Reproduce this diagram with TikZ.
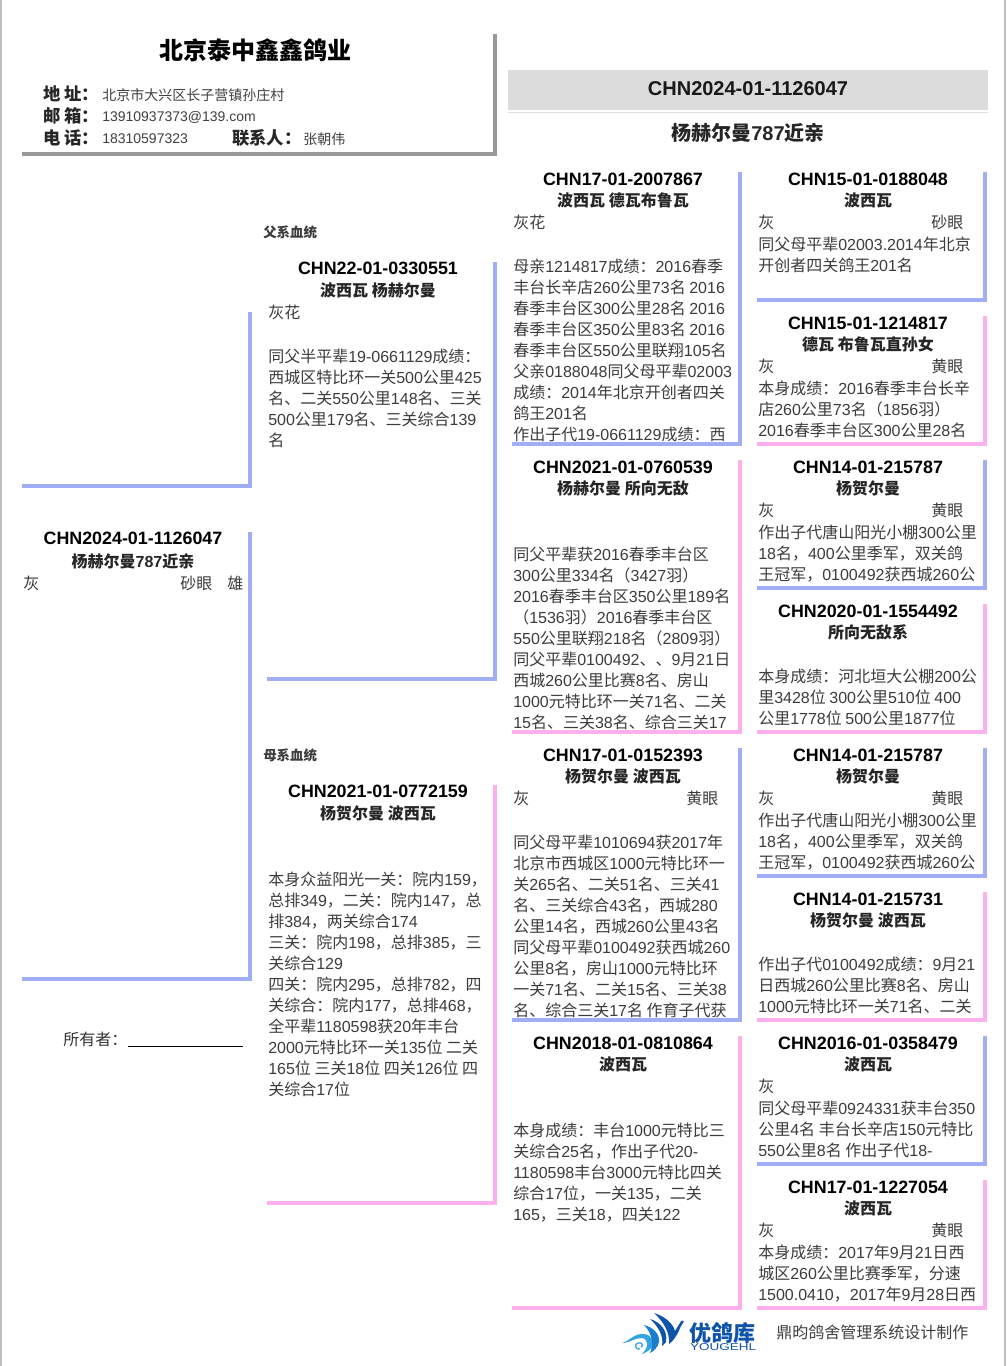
\documentclass[tikz,border=0pt]{standalone}
\usepackage{fontspec}
\setmainfont{Liberation Sans}
\newfontfamily\cjkfam{Noto Sans CJK SC}
\definecolor{blueline}{RGB}{160,175,245}
\definecolor{pinkline}{RGB}{252,177,236}
\definecolor{shadowline}{RGB}{153,153,153}
\definecolor{idbar}{RGB}{220,220,220}
\definecolor{bodycolor}{RGB}{60,60,60}
\definecolor{logodark}{RGB}{16,84,170}
\definecolor{logomid}{RGB}{24,126,205}
\definecolor{logolight}{RGB}{50,165,225}

% CJK characters take the CJK family, the rest Liberation Sans
\newXeTeXintercharclass\cjkclass
\count255="3000
\loop\XeTeXcharclass\count255=\cjkclass\ifnum\count255<"303F\advance\count255 by 1 \repeat
\count255="4E00
\loop\XeTeXcharclass\count255=\cjkclass\ifnum\count255<"9FFF\advance\count255 by 1 \repeat
\count255="FF00
\loop\XeTeXcharclass\count255=\cjkclass\ifnum\count255<"FFEF\advance\count255 by 1 \repeat
\XeTeXinterchartoks 0 \cjkclass={\cjkfam}
\XeTeXinterchartoks 4095 \cjkclass={\cjkfam}
\XeTeXinterchartoks \cjkclass 0={\rmfamily}
\XeTeXinterchartoks 4095 0={\rmfamily}
\XeTeXinterchartokenstate=1

\begin{document}
\begin{tikzpicture}[x=0.75pt,y=-0.75pt]
  \tikzset{
    idtext/.style={
      font=\fontsize{13.4}{16}\selectfont\bfseries,
      text=black,
      inner sep=0pt
    },
    subtext/.style={
      font=\fontsize{12}{15}\selectfont\bfseries,
      text=black!85,
      inner sep=0pt
    },
    colortext/.style={
      font=\fontsize{12}{15}\selectfont,
      text=bodycolor,
      anchor=west,
      yshift=-0.6pt,
      inner sep=0pt
    },
    bodytext/.style={
      font=\fontsize{12}{15.75}\selectfont,
      text=bodycolor,
      anchor=north west,
      align=left,
      yshift=-1.1pt,
      inner sep=0pt,
      execute at begin node=\strut
    },
    fieldname/.style={
      font=\fontsize{13}{15}\selectfont\bfseries,
      text=black!85,
      anchor=west,
      inner sep=0pt
    },
    fieldvalue/.style={
      font=\fontsize{10.5}{13}\selectfont,
      text=black!75,
      anchor=west,
      inner sep=0pt
    },
    sidelabel/.style={
      font=\fontsize{10.1}{13}\selectfont\bfseries,
      text=bodycolor,
      anchor=west,
      inner sep=0pt
    },
    bracketline/.style={
      line width=3pt,
      miter limit=10
    }
  }

  \useasboundingbox (0,0) rectangle (1006,1366);
  \fill[white] (0,0) rectangle (1006,1366);
  \fill[black!25] (0,0) rectangle (2,1366);
  \fill[black!25] (1004,0) rectangle (1006,1366);

  % Farm header
  \node[font=\fontsize{18}{22}\selectfont\bfseries, inner sep=0pt] at (255,50) (farmname) {北京泰中鑫鑫鸽业};
  \node[fieldname] at (43,94) (addrname) {地 址：};
  \node[fieldvalue] at (102,95) (addrvalue) {北京市大兴区长子营镇孙庄村};
  \node[fieldname] at (43,116) (mailname) {邮 箱：};
  \node[fieldvalue] at (102,117) (mailvalue) {13910937373@139.com};
  \node[fieldname] at (43,138) (telname) {电 话：};
  \node[fieldvalue] at (102,139) (telvalue) {18310597323};
  \node[fieldname] at (232,138) (contactname) {联系人：};
  \node[fieldvalue] at (303,139) (contactvalue) {张朝伟};
  \draw[line width=3pt, shadowline] (494.5,34) -- (494.5,153.7) -- (22,153.7);

  % Ring number bar
  \fill[idbar] (508,70) rectangle (988,110);
  \draw[black!12] (508,112) -- (988,112);
  \node[font=\fontsize{15}{18}\selectfont\bfseries, inner sep=0pt, text=black!90] at (748,89) (barid) {CHN2024-01-1126047};
  \node[font=\fontsize{15}{18}\selectfont\bfseries, inner sep=0pt, text=black!85] at (748,133) (barname) {杨赫尔曼787近亲};

  % The bird itself
  \node[idtext] at (133,538) (birdid) {CHN2024-01-1126047};
  \node[subtext] at (133,561) (birdname) {杨赫尔曼787近亲};
  \node[colortext] at (23,583) (birdcolor) {灰};
  \node[colortext] at (180,583) (birdeye) {砂眼};
  \node[colortext] at (227,583) (birdsex) {雄};
  \node[colortext, text=black!80] at (63,1039) (owner) {所有者：};
  \coordinate (ownerstart) at (128,1046.7);
  \coordinate (ownerend) at (243,1046.7);
  \draw[black, line width=0.75pt] (ownerstart) -- (ownerend);

  % Parents
  \node[sidelabel] at (263,232) (sirelabel) {父系血统};
  \node[idtext] at (378,268) (sireid) {CHN22-01-0330551};
  \node[subtext] at (378,290) (sirename) {波西瓦 杨赫尔曼};
  \node[colortext] at (268,312) (sirecolor) {灰花};
  \node[bodytext] at (268,347) (sirebody) {同父半平辈19-0661129成绩：\\西城区特比环一关500公里425\\名、二关550公里148名、三关\\500公里179名、三关综合139\\名};

  \node[sidelabel] at (263,755) (damlabel) {母系血统};
  \node[idtext] at (378,791) (damid) {CHN2021-01-0772159};
  \node[subtext] at (378,813) (damname) {杨贺尔曼 波西瓦};
  \node[bodytext] at (268,870) (dambody) {本身众益阳光一关：院内159，\\总排349，二关：院内147，总\\排384，两关综合174\\三关：院内198，总排385，三\\关综合129\\四关：院内295，总排782，四\\关综合：院内177，总排468，\\全平辈1180598获20年丰台\\2000元特比环一关135位 二关\\165位 三关18位 四关126位 四\\关综合17位};

  % Grandparents
  \node[idtext] at (623,179) (gsid) {CHN17-01-2007867};
  \node[subtext] at (623,200) (gsname) {波西瓦 德瓦布鲁瓦};
  \node[colortext] at (513,222) (gscolor) {灰花};
  \node[bodytext] at (513,257) (gsbody) {母亲1214817成绩：2016春季\\丰台长辛店260公里73名 2016\\春季丰台区300公里28名 2016\\春季丰台区350公里83名 2016\\春季丰台区550公里联翔105名\\父亲0188048同父母平辈02003\\成绩：2014年北京开创者四关\\鸽王201名\\作出子代19-0661129成绩：西};

  \node[idtext] at (623,467) (gdid) {CHN2021-01-0760539};
  \node[subtext] at (623,488) (gdname) {杨赫尔曼 所向无敌};
  \node[bodytext] at (513,545) (gdbody) {同父平辈获2016春季丰台区\\300公里334名（3427羽）\\2016春季丰台区350公里189名\\（1536羽）2016春季丰台区\\550公里联翔218名（2809羽）\\同父平辈0100492、、9月21日\\西城260公里比赛8名、房山\\1000元特比环一关71名、二关\\15名、三关38名、综合三关17};

  \node[idtext] at (623,755) (msid) {CHN17-01-0152393};
  \node[subtext] at (623,776) (msname) {杨贺尔曼 波西瓦};
  \node[colortext] at (513,798) (mscolor) {灰};
  \node[colortext] at (686,798) (mseye) {黄眼};
  \node[bodytext] at (513,833) (msbody) {同父母平辈1010694获2017年\\北京市西城区1000元特比环一\\关265名、二关51名、三关41\\名、三关综合43名，西城280\\公里14名，西城260公里43名\\同父母平辈0100492获西城260\\公里8名，房山1000元特比环\\一关71名、二关15名、三关38\\名、综合三关17名 作育子代获};

  \node[idtext] at (623,1043) (mdid) {CHN2018-01-0810864};
  \node[subtext] at (623,1064) (mdname) {波西瓦};
  \node[bodytext] at (513,1121) (mdbody) {本身成绩：丰台1000元特比三\\关综合25名，作出子代20-\\1180598丰台3000元特比四关\\综合17位，一关135，二关\\165，三关18，四关122};

  % Great-grandparents
  \node[idtext] at (868,179) (ggaid) {CHN15-01-0188048};
  \node[subtext] at (868,200) (gganame) {波西瓦};
  \node[colortext] at (758,222) (ggacolor) {灰};
  \node[colortext] at (931,222) (ggaeye) {砂眼};
  \node[bodytext] at (758,235) (ggabody) {同父母平辈02003.2014年北京\\开创者四关鸽王201名};

  \node[idtext] at (868,323) (ggbid) {CHN15-01-1214817};
  \node[subtext] at (868,344) (ggbname) {德瓦 布鲁瓦直孙女};
  \node[colortext] at (758,366) (ggbcolor) {灰};
  \node[colortext] at (931,366) (ggbeye) {黄眼};
  \node[bodytext] at (758,379) (ggbbody) {本身成绩：2016春季丰台长辛\\店260公里73名（1856羽）\\2016春季丰台区300公里28名};

  \node[idtext] at (868,467) (ggcid) {CHN14-01-215787};
  \node[subtext] at (868,488) (ggcname) {杨贺尔曼};
  \node[colortext] at (758,510) (ggccolor) {灰};
  \node[colortext] at (931,510) (ggceye) {黄眼};
  \node[bodytext] at (758,523) (ggcbody) {作出子代唐山阳光小棚300公里\\18名，400公里季军，双关鸽\\王冠军，0100492获西城260公};

  \node[idtext] at (868,611) (ggdid) {CHN2020-01-1554492};
  \node[subtext] at (868,632) (ggdname) {所向无敌系};
  \node[bodytext] at (758,667) (ggdbody) {本身成绩：河北垣大公棚200公\\里3428位 300公里510位 400\\公里1778位 500公里1877位};

  \node[idtext] at (868,755) (ggeid) {CHN14-01-215787};
  \node[subtext] at (868,776) (ggename) {杨贺尔曼};
  \node[colortext] at (758,798) (ggecolor) {灰};
  \node[colortext] at (931,798) (ggeeye) {黄眼};
  \node[bodytext] at (758,811) (ggebody) {作出子代唐山阳光小棚300公里\\18名，400公里季军，双关鸽\\王冠军，0100492获西城260公};

  \node[idtext] at (868,899) (ggfid) {CHN14-01-215731};
  \node[subtext] at (868,920) (ggfname) {杨贺尔曼 波西瓦};
  \node[bodytext] at (758,955) (ggfbody) {作出子代0100492成绩：9月21\\日西城260公里比赛8名、房山\\1000元特比环一关71名、二关};

  \node[idtext] at (868,1043) (gggid) {CHN2016-01-0358479};
  \node[subtext] at (868,1064) (gggname) {波西瓦};
  \node[colortext] at (758,1086) (gggcolor) {灰};
  \node[bodytext] at (758,1099) (gggbody) {同父母平辈0924331获丰台350\\公里4名 丰台长辛店150元特比\\550公里8名 作出子代18-};

  \node[idtext] at (868,1187) (gghid) {CHN17-01-1227054};
  \node[subtext] at (868,1208) (gghname) {波西瓦};
  \node[colortext] at (758,1230) (gghcolor) {灰};
  \node[colortext] at (931,1230) (ggheye) {黄眼};
  \node[bodytext] at (758,1243) (gghbody) {本身成绩：2017年9月21日西\\城区260公里比赛季军，分速\\1500.0410，2017年9月28日西};

  % Draw the blue and pink corners
  \foreach \xl/\xr/\yt/\yb/\linecol in {
    22/249.5/312/485.7/blueline, 22/249.5/532/979/blueline,
    266.7/494.5/262/679/blueline, 266.7/494.5/785/1203/pinkline,
    512/739.5/172/443.7/blueline, 512/739.5/460/731.7/pinkline,
    512/739.5/748/1019.7/blueline, 512/739.5/1036/1307.7/pinkline,
    756.7/984.7/172/299.7/blueline, 756.7/984.7/316/443.7/pinkline,
    756.7/984.7/460/587.7/blueline, 756.7/984.7/604/731.7/pinkline,
    756.7/984.7/748/875.7/blueline, 756.7/984.7/892/1019.7/pinkline,
    756.7/984.7/1036/1163.7/blueline, 756.7/984.7/1180/1307.7/pinkline}
    \draw[bracketline, \linecol] (\xr,\yt) -- (\xr,\yb) -- (\xl,\yb);

  % Logo
  \fill[logolight] (622,1343) .. controls (630,1341) and (634,1333) .. (644,1334) .. controls (652,1335) and (655,1342) .. (652,1347) .. controls (649,1351) and (645,1353) .. (642,1354) .. controls (650,1346) and (648,1338) .. (641,1338) .. controls (634,1338) and (630,1343) .. (622,1343) -- cycle;
  \draw[logolight, line width=1pt] (640,1349) .. controls (635,1350) and (634,1344) .. (638,1343) .. controls (642,1342) and (644,1346) .. (641,1347);
  \fill[logomid] (644,1325) .. controls (652,1327) and (660,1333) .. (659,1342) .. controls (658,1347) and (654,1351) .. (650,1353) .. controls (654,1344) and (652,1333) .. (644,1325) -- cycle;
  \fill[logodark] (650,1319) .. controls (660,1322) and (668,1330) .. (666,1342) -- (662,1346) .. controls (664,1336) and (658,1326) .. (650,1319) -- cycle;
  \fill[logodark] (654,1313) .. controls (664,1316) and (673,1323) .. (675,1331) -- (680,1323) .. controls (680,1320) and (682,1321) .. (684,1321) -- (680,1328) .. controls (677,1336) and (673,1341) .. (669,1344) .. controls (670,1333) and (664,1322) .. (654,1313) -- cycle;
  \node[font=\fontsize{16.5}{18}\selectfont\bfseries, text=logodark, inner sep=0pt, anchor=west] at (689,1333) (logoname) {优鸽库};
  \node[font=\fontsize{7.5}{9}\selectfont, text=logodark, inner sep=0pt, xscale=1.35] at (723,1347) (logolatin) {YOUGEHL};
  \node[font=\fontsize{12}{15}\selectfont, text=black!75, inner sep=0pt, anchor=west] at (776,1332) (maker) {鼎昀鸽舍管理系统设计制作};
\end{tikzpicture}
\end{document}
